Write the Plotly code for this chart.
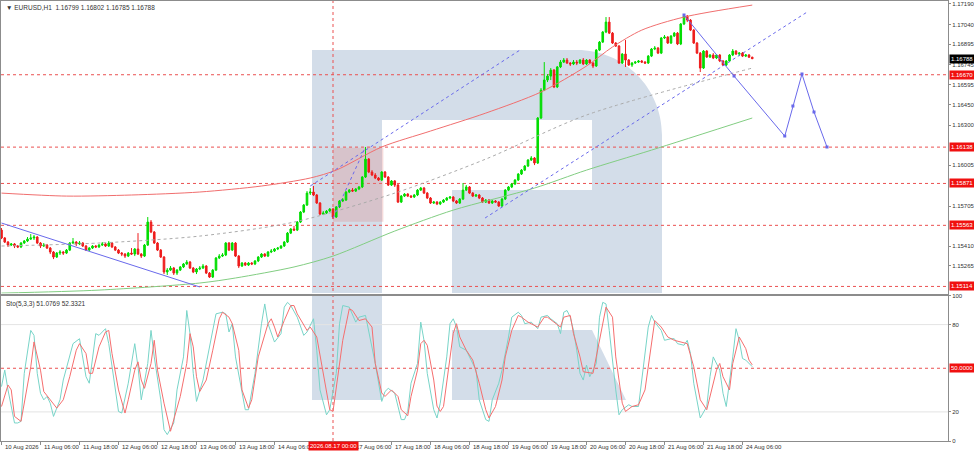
import plotly.graph_objects as go

# EURUSD H1 from 10 Aug 18:00 to 24 Aug 09:00, one entry per hourly bar (index 0..231)
close = [
    1.15470, 1.15440, 1.15418, 1.15426, 1.15411, 1.15404, 1.15433, 1.15448, 1.15462, 1.15470,
    1.15477, 1.15433, 1.15411, 1.15418, 1.15396, 1.15367, 1.15330, 1.15359, 1.15367, 1.15359,
    1.15381, 1.15433, 1.15440, 1.15426, 1.15433, 1.15411, 1.15381, 1.15396, 1.15411, 1.15404,
    1.15418, 1.15426, 1.15411, 1.15433, 1.15404, 1.15381, 1.15359, 1.15352, 1.15337, 1.15359,
    1.15352, 1.15389, 1.15352, 1.15337, 1.15418, 1.15587, 1.15514, 1.15433, 1.15381, 1.15330,
    1.15220, 1.15234, 1.15249, 1.15212, 1.15234, 1.15257, 1.15279, 1.15293, 1.15249, 1.15220,
    1.15242, 1.15249, 1.15264, 1.15212, 1.15183, 1.15234, 1.15323, 1.15337, 1.15345, 1.15433,
    1.15381, 1.15433, 1.15337, 1.15264, 1.15286, 1.15271, 1.15286, 1.15279, 1.15301, 1.15330,
    1.15352, 1.15337, 1.15367, 1.15374, 1.15389, 1.15396, 1.15411, 1.15440, 1.15506, 1.15536,
    1.15528, 1.15587, 1.15661, 1.15712, 1.15800, 1.15808, 1.15786, 1.15727, 1.15646, 1.15653,
    1.15668, 1.15683, 1.15624, 1.15698, 1.15742, 1.15749, 1.15808, 1.15822, 1.15815, 1.15830,
    1.15845, 1.15918, 1.16050, 1.15955, 1.15933, 1.15911, 1.15896, 1.15955, 1.15918, 1.15859,
    1.15889, 1.15859, 1.15734, 1.15778, 1.15793, 1.15778, 1.15771, 1.15786, 1.15822, 1.15837,
    1.15800, 1.15764, 1.15727, 1.15734, 1.15720, 1.15734, 1.15749, 1.15764, 1.15771, 1.15742,
    1.15727, 1.15756, 1.15822, 1.15845, 1.15800, 1.15778, 1.15786, 1.15764, 1.15734, 1.15749,
    1.15727, 1.15742, 1.15734, 1.15705, 1.15756, 1.15822, 1.15845, 1.15867, 1.15896, 1.15940,
    1.15969, 1.15999, 1.16043, 1.16058, 1.16021, 1.16352, 1.16557, 1.16631, 1.16660, 1.16704,
    1.16580, 1.16727, 1.16763, 1.16778, 1.16756, 1.16749, 1.16763, 1.16756, 1.16778, 1.16749,
    1.16778, 1.16756, 1.16734, 1.16851, 1.16910, 1.16984, 1.17057, 1.16976, 1.16903, 1.16881,
    1.16756, 1.16822, 1.16778, 1.16741, 1.16756, 1.16763, 1.16771, 1.16763, 1.16756, 1.16807,
    1.16859, 1.16866, 1.16829, 1.16940, 1.16947, 1.16903, 1.16954, 1.16976, 1.16896, 1.17043,
    1.17101, 1.17072, 1.16998, 1.16903, 1.16829, 1.16719, 1.16844, 1.16800, 1.16815, 1.16793,
    1.16815, 1.16771, 1.16741, 1.16771, 1.16815, 1.16844, 1.16822, 1.16829, 1.16807, 1.16815,
    1.16799, 1.16788,
]
high = [
    1.15543, 1.15477, 1.15448, 1.15433, 1.15433, 1.15418, 1.15440, 1.15455, 1.15477, 1.15499,
    1.15492, 1.15484, 1.15440, 1.15433, 1.15426, 1.15404, 1.15374, 1.15367, 1.15381, 1.15374,
    1.15389, 1.15440, 1.15470, 1.15448, 1.15448, 1.15440, 1.15418, 1.15404, 1.15418, 1.15418,
    1.15426, 1.15440, 1.15433, 1.15448, 1.15440, 1.15411, 1.15389, 1.15367, 1.15359, 1.15367,
    1.15396, 1.15396, 1.15506, 1.15359, 1.15426, 1.15624, 1.15602, 1.15521, 1.15440, 1.15389,
    1.15337, 1.15249, 1.15264, 1.15257, 1.15242, 1.15264, 1.15286, 1.15308, 1.15301, 1.15257,
    1.15249, 1.15264, 1.15279, 1.15271, 1.15220, 1.15242, 1.15330, 1.15352, 1.15359, 1.15440,
    1.15440, 1.15440, 1.15440, 1.15345, 1.15293, 1.15293, 1.15293, 1.15293, 1.15308, 1.15337,
    1.15359, 1.15359, 1.15374, 1.15389, 1.15396, 1.15404, 1.15418, 1.15448, 1.15514, 1.15543,
    1.15558, 1.15595, 1.15668, 1.15720, 1.15815, 1.15837, 1.15852, 1.15793, 1.15734, 1.15668,
    1.15675, 1.15690, 1.15690, 1.15705, 1.15749, 1.15764, 1.15815, 1.15830, 1.15837, 1.15837,
    1.15852, 1.15925, 1.16139, 1.16058, 1.15969, 1.15947, 1.15918, 1.15962, 1.15962, 1.15925,
    1.15896, 1.15896, 1.15867, 1.15786, 1.15800, 1.15800, 1.15786, 1.15793, 1.15830, 1.15845,
    1.15845, 1.15808, 1.15771, 1.15742, 1.15742, 1.15742, 1.15756, 1.15771, 1.15778, 1.15778,
    1.15749, 1.15764, 1.15874, 1.15859, 1.15852, 1.15808, 1.15793, 1.15793, 1.15771, 1.15756,
    1.15756, 1.15749, 1.15749, 1.15742, 1.15764, 1.15830, 1.15852, 1.15874, 1.15903, 1.15947,
    1.15977, 1.16006, 1.16050, 1.16072, 1.16065, 1.16359, 1.16572, 1.16763, 1.16675, 1.16719,
    1.16712, 1.16734, 1.16778, 1.16793, 1.16793, 1.16763, 1.16778, 1.16778, 1.16785, 1.16793,
    1.16785, 1.16785, 1.16763, 1.16859, 1.16918, 1.16991, 1.17094, 1.17094, 1.16984, 1.16910,
    1.16888, 1.16829, 1.16925, 1.16785, 1.16763, 1.16771, 1.16778, 1.16778, 1.16771, 1.16815,
    1.16866, 1.16881, 1.16874, 1.16947, 1.16962, 1.16954, 1.16962, 1.16984, 1.16984, 1.17050,
    1.17109, 1.17109, 1.17079, 1.17006, 1.16910, 1.16837, 1.16851, 1.16851, 1.16822, 1.16829,
    1.16822, 1.16822, 1.16778, 1.16778, 1.16822, 1.16859, 1.16851, 1.16837, 1.16837, 1.16822,
    1.16822, 1.16802,
]
low = [
    1.15462, 1.15433, 1.15404, 1.15411, 1.15396, 1.15396, 1.15396, 1.15426, 1.15440, 1.15455,
    1.15455, 1.15426, 1.15396, 1.15404, 1.15389, 1.15352, 1.15315, 1.15323, 1.15345, 1.15345,
    1.15352, 1.15374, 1.15426, 1.15411, 1.15418, 1.15404, 1.15374, 1.15374, 1.15389, 1.15396,
    1.15396, 1.15411, 1.15404, 1.15404, 1.15396, 1.15374, 1.15352, 1.15337, 1.15323, 1.15330,
    1.15345, 1.15337, 1.15345, 1.15323, 1.15330, 1.15411, 1.15506, 1.15426, 1.15374, 1.15323,
    1.15205, 1.15198, 1.15227, 1.15198, 1.15198, 1.15227, 1.15249, 1.15271, 1.15242, 1.15212,
    1.15205, 1.15234, 1.15242, 1.15205, 1.15176, 1.15176, 1.15227, 1.15315, 1.15330, 1.15337,
    1.15374, 1.15374, 1.15330, 1.15249, 1.15257, 1.15264, 1.15264, 1.15271, 1.15271, 1.15293,
    1.15323, 1.15330, 1.15330, 1.15359, 1.15367, 1.15381, 1.15389, 1.15404, 1.15433, 1.15499,
    1.15521, 1.15521, 1.15580, 1.15653, 1.15705, 1.15786, 1.15778, 1.15720, 1.15639, 1.15639,
    1.15646, 1.15661, 1.15609, 1.15617, 1.15690, 1.15734, 1.15742, 1.15800, 1.15808, 1.15808,
    1.15822, 1.15837, 1.15911, 1.15947, 1.15925, 1.15903, 1.15889, 1.15889, 1.15911, 1.15852,
    1.15852, 1.15845, 1.15727, 1.15727, 1.15771, 1.15771, 1.15764, 1.15764, 1.15778, 1.15815,
    1.15793, 1.15756, 1.15720, 1.15720, 1.15712, 1.15712, 1.15727, 1.15742, 1.15756, 1.15734,
    1.15720, 1.15720, 1.15749, 1.15815, 1.15793, 1.15771, 1.15771, 1.15756, 1.15727, 1.15727,
    1.15720, 1.15720, 1.15727, 1.15698, 1.15698, 1.15749, 1.15815, 1.15837, 1.15859, 1.15889,
    1.15933, 1.15962, 1.15992, 1.16036, 1.16006, 1.16014, 1.16344, 1.16550, 1.16616, 1.16631,
    1.16572, 1.16572, 1.16719, 1.16756, 1.16749, 1.16734, 1.16741, 1.16741, 1.16749, 1.16741,
    1.16741, 1.16749, 1.16719, 1.16727, 1.16844, 1.16903, 1.16976, 1.16969, 1.16896, 1.16874,
    1.16749, 1.16749, 1.16727, 1.16734, 1.16727, 1.16749, 1.16756, 1.16756, 1.16749, 1.16749,
    1.16800, 1.16851, 1.16822, 1.16822, 1.16932, 1.16896, 1.16896, 1.16947, 1.16888, 1.16888,
    1.17035, 1.17057, 1.16991, 1.16896, 1.16822, 1.16690, 1.16712, 1.16793, 1.16793, 1.16785,
    1.16785, 1.16763, 1.16734, 1.16734, 1.16763, 1.16807, 1.16815, 1.16807, 1.16800, 1.16800,
    1.16793, 1.16785,
]
first_open = 1.15528
# hourly FX bars open where the previous one closed
open_ = [first_open] + close[:-1]
bars = list(range(len(close)))

# moving averages at a few bars
ma_red_x = [0, 20, 40, 61, 80, 95, 103, 117, 132, 149, 166, 180, 188, 197, 210, 231]
ma_red_y = [1.15800, 1.15778, 1.15786, 1.15808, 1.15852, 1.15911, 1.15969, 1.16139, 1.16256,
            1.16388, 1.16543, 1.16734, 1.16874, 1.16998, 1.17094, 1.17182]
ma_green_x = [0, 30, 61, 72, 90, 102, 121, 139, 164, 180, 200, 231]
ma_green_y = [1.15065, 1.15087, 1.15139, 1.15176, 1.15257, 1.15337, 1.15521, 1.15675, 1.15837,
              1.15969, 1.16116, 1.16352]
ma_gray_x = [0, 30, 61, 90, 121, 149, 180, 231]
ma_gray_y = [1.15411, 1.15433, 1.15484, 1.15587, 1.15800, 1.16050, 1.16374, 1.16719]

# drawn objects
down_line_x = [0, 61]
down_line_y = [1.15580, 1.15110]
chan_top_x = [95, 159.5]
chan_top_y = [1.15852, 1.16851]
chan_low_x = [148.8, 247.9]
chan_low_y = [1.15617, 1.17131]
swing_x = [102, 112]
swing_y = [1.15617, 1.16139]
forecast_x = [210, 225.4, 241, 243.5, 246.3, 250, 254]
forecast_y = [1.17109, 1.16660, 1.16219, 1.16440, 1.16675, 1.16396, 1.16139]
box_x = [102, 117.5]
box_y = [1.15590, 1.16133]
cross_bar = 102
cross_label = "2026.08.17 00:00"

levels = [1.16670, 1.16138, 1.15871, 1.15563, 1.15114]
last_price = 1.16788
price_ticks = [1.17190, 1.17040, 1.16895, 1.16745, 1.16595, 1.16450, 1.16300, 1.16005,
               1.15705, 1.15410, 1.15265]

time_ticks = [0, 12, 24, 36, 48, 60, 72, 84, 108, 120, 132, 144, 156, 168, 180, 192, 204, 216, 228]
time_labels = ["10 Aug 2026", "11 Aug 06:00", "11 Aug 18:00", "12 Aug 06:00", "12 Aug 18:00",
               "13 Aug 06:00", "13 Aug 18:00", "14 Aug 06:00", "17 Aug 06:00", "17 Aug 18:00",
               "18 Aug 06:00", "18 Aug 18:00", "19 Aug 06:00", "19 Aug 18:00", "20 Aug 06:00",
               "20 Aug 18:00", "21 Aug 06:00", "21 Aug 18:00", "24 Aug 06:00"]

# Stochastic(5,3,3)
sto_k_x = [0, 1, 2, 4, 5, 6, 7, 9, 10, 11, 12, 13, 14, 15, 16, 18, 19, 21, 22, 24, 25, 26, 27, 28,
           29, 30, 32, 33, 35, 36, 37, 39, 41, 42, 43, 45, 46, 47, 49, 50, 51, 53, 54, 56, 57, 58,
           59, 60, 62, 64, 66, 68, 69, 70, 71, 72, 74, 75, 76, 78, 80, 81, 82, 84, 86, 87, 88, 89,
           91, 92, 93, 94, 96, 97, 98, 100, 101, 103, 104, 105, 107, 109, 110, 112, 113, 115, 117,
           118, 119, 121, 123, 124, 125, 126, 128, 129, 130, 131, 133, 134, 135, 137, 138, 139, 140,
           141, 143, 144, 146, 147, 149, 150, 151, 153, 154, 156, 157, 159, 160, 161, 163, 165, 166,
           168, 169, 171, 172, 173, 174, 175, 176, 177, 178, 179, 180, 181, 183, 184, 185, 186, 187,
           189, 190, 191, 193, 194, 196, 197, 199, 200, 201, 203, 204, 206, 207, 208, 210, 211, 212,
           213, 215, 217, 218, 219, 221, 222, 223, 225, 226, 227, 228, 229, 230, 231]
sto_k = [37.4, 48.7, 35.1, 12.4, 12.4, 13.5, 46.5, 76.0, 72.6, 46.5, 32.8, 28.3, 30.6, 26.0, 16.9,
         28.3, 41.9, 57.8, 66.9, 70.3, 57.8, 44.2, 39.7, 57.8, 73.8, 72.6, 77.2, 66.9, 37.4, 20.3,
         19.2, 39.7, 66.9, 51.0, 28.3, 53.3, 76.0, 57.8, 28.3, 7.8, 4.4, 12.4, 35.1, 57.8, 89.7,
         73.8, 46.5, 27.2, 41.9, 64.7, 87.4, 88.5, 87.4, 74.9, 80.6, 57.8, 32.8, 21.5, 21.5, 46.5,
         80.6, 94.2, 80.6, 68.0, 73.8, 92.0, 95.3, 93.1, 85.1, 78.3, 72.6, 74.9, 84.0, 62.4, 35.1,
         18.0, 21.5, 46.5, 80.6, 93.1, 92.0, 81.7, 85.1, 86.3, 76.0, 53.3, 27.2, 34.0, 36.2, 32.8,
         14.7, 14.7, 20.3, 39.7, 53.3, 81.7, 69.2, 46.5, 21.5, 15.8, 26.0, 57.8, 80.6, 84.0, 78.3,
         64.7, 62.4, 57.8, 48.7, 28.3, 14.7, 13.5, 28.3, 39.7, 48.7, 71.5, 85.1, 88.5, 86.3, 80.6,
         81.7, 77.2, 85.1, 86.3, 84.0, 80.6, 73.8, 88.5, 89.7, 85.1, 76.0, 62.4, 46.5, 41.9, 52.2,
         44.2, 53.3, 85.1, 95.3, 94.2, 76.0, 35.1, 18.0, 21.5, 24.9, 23.7, 23.7, 41.9, 78.3, 86.3,
         81.7, 76.0, 69.2, 70.3, 70.3, 66.9, 65.8, 69.2, 60.1, 39.7, 15.8, 23.7, 44.2, 57.8, 48.7,
         32.8, 23.7, 57.8, 77.2, 69.2, 56.7, 55.6, 53.5, 51.0769]
sto_d_x = [0, 2, 3, 4, 6, 7, 9, 10, 12, 13, 15, 17, 19, 21, 23, 24, 26, 27, 28, 30, 32, 33, 34, 36,
           38, 39, 41, 42, 43, 44, 46, 47, 48, 50, 52, 53, 55, 57, 58, 59, 60, 61, 63, 65, 67, 68,
           70, 71, 73, 74, 76, 77, 79, 82, 83, 84, 85, 87, 89, 90, 91, 94, 95, 97, 99, 101, 102,
           103, 105, 107, 108, 110, 112, 114, 115, 117, 118, 120, 122, 123, 125, 126, 128, 129, 130,
           131, 133, 134, 135, 136, 137, 138, 139, 140, 141, 143, 145, 147, 149, 150, 152, 154, 155,
           157, 159, 160, 162, 165, 167, 168, 170, 172, 173, 175, 176, 178, 179, 182, 183, 185, 186,
           188, 189, 191, 192, 194, 196, 198, 200, 201, 203, 205, 207, 209, 211, 213, 215, 217, 218,
           220, 221, 222, 224, 225, 227, 229, 230, 231]
sto_d = [23.7, 38.5, 35.1, 16.9, 13.5, 26.0, 51.0, 68.1, 48.7, 34.0, 28.3, 22.6, 28.3, 44.2, 62.4,
         66.9, 60.1, 46.5, 46.5, 64.7, 74.9, 76.0, 60.1, 35.1, 19.2, 28.3, 48.7, 54.4, 41.9, 36.2,
         53.3, 69.2, 48.7, 26.0, 6.7, 14.7, 30.6, 53.3, 73.8, 64.7, 44.2, 34.0, 41.9, 62.4, 84.0,
         88.5, 85.1, 80.6, 62.4, 35.1, 22.6, 28.3, 57.8, 80.6, 84.0, 78.3, 71.5, 82.8, 93.1, 93.1,
         87.4, 76.0, 78.3, 71.5, 46.5, 21.5, 20.3, 37.4, 69.2, 90.8, 89.7, 82.8, 84.0, 78.3, 53.3,
         33.0, 30.6, 35.1, 30.6, 21.5, 17.4, 30.6, 48.7, 66.9, 69.2, 65.8, 41.9, 24.0, 20.3, 23.7,
         40.0, 60.0, 74.0, 80.6, 71.5, 62.4, 55.6, 39.7, 21.5, 15.8, 23.7, 41.9, 57.8, 76.0, 86.3,
         85.1, 81.7, 78.3, 85.1, 85.1, 81.7, 78.3, 85.1, 86.3, 73.8, 57.8, 47.6, 46.5, 57.8, 80.6,
         92.0, 85.1, 57.8, 26.0, 20.3, 23.7, 24.9, 35.1, 69.2, 82.8, 78.3, 71.5, 69.2, 68.1, 66.9,
         51.0, 28.3, 21.5, 30.6, 48.7, 53.3, 44.2, 35.1, 53.3, 71.5, 63.5, 55.6, 52.3321]
sto_levels = [20, 80]
sto_mid = 50

# page geometry (pixels) used only for the watermark and panel placement
W, H = 974, 451
ML, MR, MT, MB = 1, 26, 1, 10
PW, PH = W - ML - MR, H - MT - MB


def to_paper(x, y):
    return (x - ML) / PW, (H - MB - y) / PH


def svg_path(cmds):
    parts = []
    for c, pts in cmds:
        parts.append(c + " " + " ".join("%.5f,%.5f" % to_paper(x, y) for x, y in pts))
    return " ".join(parts) + " Z"


WM = "#D3DDE9"
logo_main = svg_path([("M", [(312, 50)]), ("L", [(577, 50)]),
                      ("C", [(624, 50), (662, 88), (662, 135)]),
                      ("L", [(662, 293)]), ("L", [(452, 293)]), ("L", [(452, 190)]),
                      ("L", [(592, 190)]), ("L", [(592, 120)]), ("L", [(382, 120)]),
                      ("L", [(382, 293)]), ("L", [(312, 293)])])
logo_stem = svg_path([("M", [(312, 296)]), ("L", [(382, 296)]), ("L", [(382, 400)]),
                      ("L", [(312, 400)])])
logo_leg = svg_path([("M", [(452, 330)]), ("L", [(592, 330)]), ("L", [(626, 400)]),
                     ("L", [(452, 400)])])

main_dom = [(H - MB - 293.5) / PH, 1]
sto_dom = [0, (H - MB - 295.5) / PH]
x_range = [(ML - 1.5) / 3.25, (W - MR - 1.5) / 3.25]

BLUE = "rgb(105,105,235)"
FONT = "Liberation Sans"
TXT = "#333333"

fig = go.Figure()

fig.add_trace(go.Scatter(x=ma_gray_x, y=ma_gray_y, mode="lines",
                         line=dict(color="rgb(170,170,170)", width=1, dash="dot",
                                   shape="spline", smoothing=0.8)))
fig.add_trace(go.Scatter(x=ma_green_x, y=ma_green_y, mode="lines",
                         line=dict(color="rgb(130,205,130)", width=1, shape="spline", smoothing=0.8)))
fig.add_trace(go.Scatter(x=ma_red_x, y=ma_red_y, mode="lines",
                         line=dict(color="rgb(240,110,110)", width=1, shape="spline", smoothing=0.8)))

for lx, ly in [(chan_top_x, chan_top_y), (chan_low_x, chan_low_y), (swing_x, swing_y)]:
    fig.add_trace(go.Scatter(x=lx, y=ly, mode="lines", line=dict(color=BLUE, width=1, dash="dot")))
fig.add_trace(go.Scatter(x=down_line_x, y=down_line_y, mode="lines", line=dict(color=BLUE, width=1)))

fig.add_trace(go.Candlestick(
    x=bars, open=open_, high=high, low=low, close=close,
    increasing=dict(line=dict(color="#00DD00", width=1), fillcolor="#00DD00"),
    decreasing=dict(line=dict(color="#EE1C1C", width=1), fillcolor="#EE1C1C"),
    whiskerwidth=0, hoverinfo="skip"))

fig.add_trace(go.Scatter(x=forecast_x, y=forecast_y, mode="lines+markers",
                         line=dict(color=BLUE, width=1),
                         marker=dict(size=3, color=BLUE, symbol="square")))

fig.add_trace(go.Scatter(x=sto_k_x, y=sto_k, mode="lines", xaxis="x2", yaxis="y2",
                         line=dict(color="rgb(120,212,200)", width=1)))
fig.add_trace(go.Scatter(x=sto_d_x, y=sto_d, mode="lines", xaxis="x2", yaxis="y2",
                         line=dict(color="rgb(245,110,110)", width=1)))

shapes = [
    dict(type="path", path=logo_main, xref="paper", yref="paper", fillcolor=WM, line_width=0, layer="below"),
    dict(type="path", path=logo_stem, xref="paper", yref="paper", fillcolor=WM, line_width=0, layer="below"),
    dict(type="path", path=logo_leg, xref="paper", yref="paper", fillcolor=WM, line_width=0, layer="below"),
    dict(type="rect", xref="x", yref="y", x0=box_x[0], x1=box_x[1], y0=box_y[0], y1=box_y[1],
         fillcolor="rgba(225,140,140,0.32)", line_width=0, layer="below"),
]
for lv in levels:
    shapes.append(dict(type="line", xref="paper", yref="y", x0=0, x1=1, y0=lv, y1=lv,
                       line=dict(color="rgb(235,80,80)", width=1, dash="dot"), layer="below"))
for lv in sto_levels:
    shapes.append(dict(type="line", xref="paper", yref="y2", x0=0, x1=1, y0=lv, y1=lv,
                       line=dict(color="rgb(228,228,228)", width=1), layer="below"))
shapes.append(dict(type="line", xref="paper", yref="y2", x0=0, x1=1, y0=sto_mid, y1=sto_mid,
                   line=dict(color="rgb(235,80,80)", width=1, dash="dot"), layer="below"))
shapes.append(dict(type="line", xref="x", yref="paper", x0=cross_bar, x1=cross_bar, y0=0, y1=1,
                   line=dict(color="rgb(235,80,80)", width=1, dash="dot"), layer="below"))

anns = [
    dict(xref="paper", yref="paper", x=0.003, y=1, xanchor="left", yanchor="top", yshift=-1,
         text="▼ EURUSD,H1  1.16799 1.16802 1.16785 1.16788", showarrow=False,
         font=dict(size=6.5, color=TXT, family=FONT)),
    dict(xref="paper", yref="y2 domain", x=0.003, y=1, xanchor="left", yanchor="top", yshift=-2,
         text="Sto(5,3,3) 51.0769 52.3321", showarrow=False,
         font=dict(size=6.5, color=TXT, family=FONT)),
]
# time labels sit to the right of their tick, as in the terminal
for t, lab in zip(time_ticks, time_labels):
    anns.append(dict(xref="x2", yref="paper", x=t, y=0, xanchor="left", yanchor="top",
                     xshift=1, yshift=-1, text=lab, showarrow=False,
                     font=dict(size=6, color=TXT, family=FONT)))
anns.append(dict(xref="x2", yref="paper", x=cross_bar, y=0, xanchor="center", yanchor="top",
                 yshift=0, text=cross_label, showarrow=False, bgcolor="#F01010", borderpad=1,
                 font=dict(size=6, color="white", family=FONT)))
anns.append(dict(xref="paper", yref="y", x=1, y=last_price, xanchor="left", yanchor="middle",
                 xshift=1, text="%.5f" % last_price, showarrow=False, bgcolor="black",
                 borderpad=1, width=23, align="left", font=dict(size=6, color="white", family=FONT)))
anns.append(dict(xref="paper", yref="y2", x=1, y=sto_mid, xanchor="left", yanchor="middle",
                 xshift=1, text="50.0000", showarrow=False, bgcolor="#F01010", borderpad=1,
                 width=23, align="left", font=dict(size=6, color="white", family=FONT)))
for lv in levels:
    anns.append(dict(xref="paper", yref="y", x=1, y=lv, xanchor="left", yanchor="middle", xshift=1,
                     text="%.5f" % lv, showarrow=False, bgcolor="#F01010", borderpad=1, width=23,
                     align="left", font=dict(size=6, color="white", family=FONT)))

axis_common = dict(showline=True, mirror=True, linecolor="#8C8C8C", linewidth=1,
                   showgrid=False, zeroline=False)

fig.update_layout(
    width=W, height=H,
    margin=dict(l=ML, r=MR, t=MT, b=MB, autoexpand=False),
    paper_bgcolor="white", plot_bgcolor="white",
    showlegend=False,
    font=dict(family=FONT, size=6, color=TXT),
    shapes=shapes, annotations=anns,
    xaxis=dict(domain=[0, 1], range=x_range, anchor="y", showticklabels=False, ticks="",
               rangeslider=dict(visible=False), **axis_common),
    yaxis=dict(domain=main_dom, range=[1.15062, 1.17212], side="right", anchor="x",
               tickvals=price_ticks, ticktext=["%.5f" % v for v in price_ticks],
               ticks="outside", ticklen=2, tickcolor="#8C8C8C", ticklabelstandoff=0,
               tickfont=dict(size=6, color=TXT, family=FONT), **axis_common),
    xaxis2=dict(domain=[0, 1], range=x_range, anchor="y2", matches="x",
                tickvals=time_ticks, showticklabels=False, ticks="outside", ticklen=3,
                tickcolor="#8C8C8C", **axis_common),
    yaxis2=dict(domain=sto_dom, range=[0, 100], side="right", anchor="x2",
                tickvals=[0, 20, 80, 100], ticktext=["0", "20", "80", "100"],
                ticks="outside", ticklen=2, tickcolor="#8C8C8C", ticklabelstandoff=0,
                tickfont=dict(size=6, color=TXT, family=FONT), **axis_common),
)

# the page body has a default margin; drop it so the figure fills the window exactly
fig.write_html("out.html", config={"displayModeBar": False},
               post_script="document.body.style.margin='0';document.body.style.overflow='hidden';")
